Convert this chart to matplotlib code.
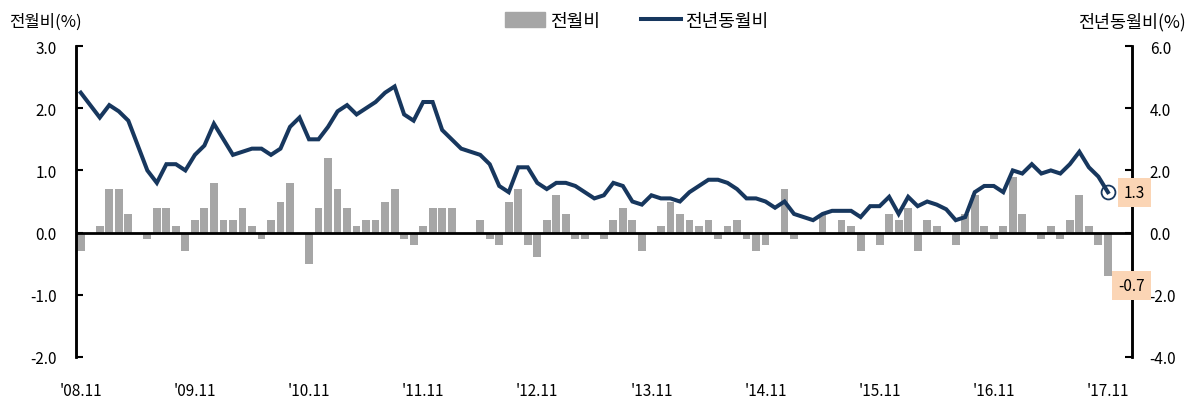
import numpy as np
import matplotlib
matplotlib.use('Agg')
import matplotlib.pyplot as plt
from matplotlib.patches import Patch
from matplotlib.lines import Line2D

plt.rcParams['font.family'] = ['Noto Sans CJK KR', 'DejaVu Sans']
plt.rcParams['axes.unicode_minus'] = False

# 2008.11 ~ 2017.11, 월별
mom = [  # 전월비 (%)
    -0.3, 0.0, 0.1, 0.7, 0.7, 0.3, 0.0, -0.1, 0.4, 0.4, 0.1, -0.3,
    0.2, 0.4, 0.8, 0.2, 0.2, 0.4, 0.1, -0.1, 0.2, 0.5, 0.8, 0.0,
    -0.5, 0.4, 1.2, 0.7, 0.4, 0.1, 0.2, 0.2, 0.5, 0.7, -0.1, -0.2,
    0.1, 0.4, 0.4, 0.4, 0.0, 0.0, 0.2, -0.1, -0.2, 0.5, 0.7, -0.2,
    -0.4, 0.2, 0.6, 0.3, -0.1, -0.1, 0.0, -0.1, 0.2, 0.4, 0.2, -0.3,
    0.0, 0.1, 0.5, 0.3, 0.2, 0.1, 0.2, -0.1, 0.1, 0.2, -0.1, -0.3,
    -0.2, 0.0, 0.7, -0.1, 0.0, 0.0, 0.3, 0.0, 0.2, 0.1, -0.3, 0.0,
    -0.2, 0.3, 0.2, 0.4, -0.3, 0.2, 0.1, 0.0, -0.2, 0.3, 0.6, 0.1,
    -0.1, 0.1, 0.9, 0.3, 0.0, -0.1, 0.1, -0.1, 0.2, 0.6, 0.1, -0.2,
    -0.7,
]
yoy = [  # 전년동월비 (%)
    4.5, 4.1, 3.7, 4.1, 3.9, 3.6, 2.8, 2.0, 1.6, 2.2, 2.2, 2.0,
    2.5, 2.8, 3.5, 3.0, 2.5, 2.6, 2.7, 2.7, 2.5, 2.7, 3.4, 3.7,
    3.0, 3.0, 3.4, 3.9, 4.1, 3.8, 4.0, 4.2, 4.5, 4.7, 3.8, 3.6,
    4.2, 4.2, 3.3, 3.0, 2.7, 2.6, 2.5, 2.2, 1.5, 1.3, 2.1, 2.1,
    1.6, 1.4, 1.6, 1.6, 1.5, 1.3, 1.1, 1.2, 1.6, 1.5, 1.0, 0.9,
    1.2, 1.1, 1.1, 1.0, 1.3, 1.5, 1.7, 1.7, 1.6, 1.4, 1.1, 1.1,
    1.0, 0.8, 1.0, 0.6, 0.5, 0.4, 0.6, 0.7, 0.7, 0.7, 0.5, 0.85,
    0.85, 1.15, 0.6, 1.15, 0.85, 1.0, 0.9, 0.75, 0.4, 0.5, 1.3, 1.5,
    1.5, 1.3, 2.0, 1.9, 2.2, 1.9, 2.0, 1.9, 2.2, 2.6, 2.1, 1.8,
    1.3,
]
xlabels = ["'08.11", "'09.11", "'10.11", "'11.11", "'12.11",
           "'13.11", "'14.11", "'15.11", "'16.11", "'17.11"]
left_ticks = [3.0, 2.0, 1.0, 0.0, -1.0, -2.0]
right_ticks = [6.0, 4.0, 2.0, 0.0, -2.0, -4.0]

BAR_C = '#A6A6A6'
LINE_C = '#17375E'
BOX_C = '#FBD5B5'

x = np.arange(len(mom))

fig = plt.figure(figsize=(11.95, 4.02), dpi=100)
ax1 = fig.add_axes([0.0636, 0.1095, 0.947 - 0.0636, 0.883 - 0.1095])
ax2 = ax1.twinx()

ax1.bar(x, mom, width=0.82, color=BAR_C, zorder=2)
ax1.axhline(0, color='black', lw=2.0, zorder=3)
ax2.plot(x, yoy, color=LINE_C, lw=2.9, solid_joinstyle='miter', zorder=4)
ax2.plot(x[-1], yoy[-1], 'o', ms=10, mfc='none', mec=LINE_C, mew=1.3, zorder=5)

ax1.set_xlim(-0.5, 110.5)
ax1.set_ylim(-2, 3)
ax2.set_ylim(-4, 6)

ax1.set_xticks(x[::12])
ax1.set_xticklabels(xlabels, fontsize=11)
ax1.tick_params(axis='x', length=0, pad=18)

ax1.set_yticks(left_ticks)
ax1.set_yticklabels([f'{v:.1f}' for v in left_ticks], fontsize=11)
ax1.tick_params(axis='y', direction='in', length=5, width=1.5, pad=14)
ax2.set_yticks(right_ticks)
ax2.set_yticklabels([f'{v:.1f}' for v in right_ticks], fontsize=11)
ax2.tick_params(axis='y', direction='in', length=5, width=1.5, pad=13)

for ax in (ax1, ax2):
    ax.spines['top'].set_visible(False)
    ax.spines['bottom'].set_visible(False)
    ax.spines['left'].set_linewidth(1.8)
    ax.spines['right'].set_linewidth(1.8)

# 마지막 값 표시
ax2.annotate(f'{yoy[-1]:.1f}', xy=(x[-1], yoy[-1]), xytext=(19, 0),
             textcoords='offset points', ha='center', va='center', fontsize=11,
             bbox=dict(boxstyle='square,pad=0.4', fc=BOX_C, ec='none'),
             annotation_clip=False, zorder=10)
ax2.annotate(f'{mom[-1]:.1f}', xy=(x[-1], mom[-1] * 2), xytext=(17, -7),
             textcoords='offset points', ha='center', va='center', fontsize=11,
             bbox=dict(boxstyle='square,pad=0.4', fc=BOX_C, ec='none'),
             annotation_clip=False, zorder=10)

fig.text(0.008, 0.945, '전월비(%)', fontsize=12, ha='left', va='center')
fig.text(0.992, 0.945, '전년동월비(%)', fontsize=12.5, ha='right', va='center')

handles = [Patch(color=BAR_C, label='전월비'),
           Line2D([0], [0], color=LINE_C, lw=2.9, label='전년동월비')]
fig.legend(handles=handles, loc='center', bbox_to_anchor=(0.533, 0.945), ncol=2,
           frameon=False, fontsize=13, handlelength=2.2, handleheight=0.9,
           handletextpad=0.25, columnspacing=2.3)

fig.savefig('out.png', dpi=100)
